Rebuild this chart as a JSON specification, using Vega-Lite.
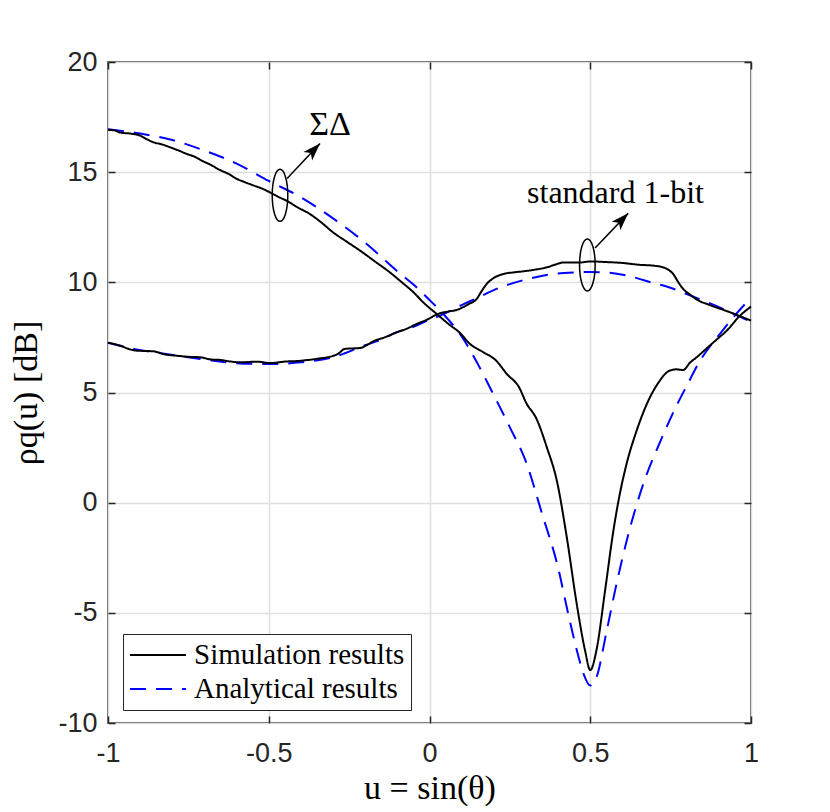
{
  "$schema": "https://vega.github.io/schema/vega-lite/v6.json",
  "width": 643,
  "height": 661,
  "autosize": {"type": "none"},
  "padding": {"left": 108, "top": 62, "right": 79, "bottom": 89},
  "background": "white",
  "config": {
    "view": {"stroke": "#262626", "strokeWidth": 1.5},
    "axis": {
      "labelFont": "Liberation Sans",
      "labelFontSize": 27,
      "labelColor": "#262626",
      "labelFlush": false,
      "titleFont": "Liberation Serif",
      "titleFontSize": 34,
      "titleFontWeight": "normal",
      "titleColor": "#000000",
      "gridColor": "#e0e0e0",
      "gridWidth": 1.5,
      "tickColor": "#262626",
      "tickWidth": 1.5,
      "tickSize": -7,
      "domain": false
    },
    "legend": {
      "labelFont": "Liberation Serif",
      "labelFontSize": 29,
      "labelColor": "#000000",
      "strokeColor": "#262626",
      "fillColor": "#ffffff",
      "padding": 6,
      "rowPadding": 4,
      "symbolStrokeWidth": 2,
      "symbolType": "M-1,0H3",
      "symbolSize": 784,
      "labelOffset": 35,
      "labelLimit": 400
    }
  },
  "datasets": {
    "curves": [
      {"curve": "sd_ana", "kind": "Analytical results", "u": -1, "rho": 16.95},
      {"curve": "sd_ana", "kind": "Analytical results", "u": -0.9, "rho": 16.75},
      {"curve": "sd_ana", "kind": "Analytical results", "u": -0.8, "rho": 16.46},
      {"curve": "sd_ana", "kind": "Analytical results", "u": -0.7, "rho": 15.98},
      {"curve": "sd_ana", "kind": "Analytical results", "u": -0.6, "rho": 15.39},
      {"curve": "sd_ana", "kind": "Analytical results", "u": -0.5, "rho": 14.6},
      {"curve": "sd_ana", "kind": "Analytical results", "u": -0.4, "rho": 13.86},
      {"curve": "sd_ana", "kind": "Analytical results", "u": -0.3, "rho": 12.9},
      {"curve": "sd_ana", "kind": "Analytical results", "u": -0.2, "rho": 11.8},
      {"curve": "sd_ana", "kind": "Analytical results", "u": -0.1, "rho": 10.5},
      {"curve": "sd_ana", "kind": "Analytical results", "u": -0.05, "rho": 9.9},
      {"curve": "sd_ana", "kind": "Analytical results", "u": 0, "rho": 9.2},
      {"curve": "sd_ana", "kind": "Analytical results", "u": 0.05, "rho": 8.45},
      {"curve": "sd_ana", "kind": "Analytical results", "u": 0.1, "rho": 7.55},
      {"curve": "sd_ana", "kind": "Analytical results", "u": 0.15, "rho": 6.3},
      {"curve": "sd_ana", "kind": "Analytical results", "u": 0.2, "rho": 4.88},
      {"curve": "sd_ana", "kind": "Analytical results", "u": 0.25, "rho": 3.42},
      {"curve": "sd_ana", "kind": "Analytical results", "u": 0.3, "rho": 1.86},
      {"curve": "sd_ana", "kind": "Analytical results", "u": 0.35, "rho": -0.5},
      {"curve": "sd_ana", "kind": "Analytical results", "u": 0.4, "rho": -2.95},
      {"curve": "sd_ana", "kind": "Analytical results", "u": 0.43, "rho": -4.95},
      {"curve": "sd_ana", "kind": "Analytical results", "u": 0.46, "rho": -6.8},
      {"curve": "sd_ana", "kind": "Analytical results", "u": 0.48, "rho": -7.8},
      {"curve": "sd_ana", "kind": "Analytical results", "u": 0.5, "rho": -8.3},
      {"curve": "sd_ana", "kind": "Analytical results", "u": 0.52, "rho": -7.9},
      {"curve": "sd_ana", "kind": "Analytical results", "u": 0.55, "rho": -5.9},
      {"curve": "sd_ana", "kind": "Analytical results", "u": 0.58, "rho": -3.8},
      {"curve": "sd_ana", "kind": "Analytical results", "u": 0.62, "rho": -1.35},
      {"curve": "sd_ana", "kind": "Analytical results", "u": 0.665, "rho": 0.85},
      {"curve": "sd_ana", "kind": "Analytical results", "u": 0.72, "rho": 2.85},
      {"curve": "sd_ana", "kind": "Analytical results", "u": 0.77, "rho": 4.45},
      {"curve": "sd_ana", "kind": "Analytical results", "u": 0.8, "rho": 5.3},
      {"curve": "sd_ana", "kind": "Analytical results", "u": 0.84, "rho": 6.4},
      {"curve": "sd_ana", "kind": "Analytical results", "u": 0.86, "rho": 6.85},
      {"curve": "sd_ana", "kind": "Analytical results", "u": 0.9, "rho": 7.6},
      {"curve": "sd_ana", "kind": "Analytical results", "u": 0.95, "rho": 8.5},
      {"curve": "sd_ana", "kind": "Analytical results", "u": 1, "rho": 9.3},

      {"curve": "ob_ana", "kind": "Analytical results", "u": -1, "rho": 7.26},
      {"curve": "ob_ana", "kind": "Analytical results", "u": -0.92, "rho": 6.98},
      {"curve": "ob_ana", "kind": "Analytical results", "u": -0.82, "rho": 6.75},
      {"curve": "ob_ana", "kind": "Analytical results", "u": -0.71, "rho": 6.52},
      {"curve": "ob_ana", "kind": "Analytical results", "u": -0.61, "rho": 6.34},
      {"curve": "ob_ana", "kind": "Analytical results", "u": -0.5, "rho": 6.29},
      {"curve": "ob_ana", "kind": "Analytical results", "u": -0.4, "rho": 6.37},
      {"curve": "ob_ana", "kind": "Analytical results", "u": -0.3, "rho": 6.6},
      {"curve": "ob_ana", "kind": "Analytical results", "u": -0.2, "rho": 7.15},
      {"curve": "ob_ana", "kind": "Analytical results", "u": -0.15, "rho": 7.4},
      {"curve": "ob_ana", "kind": "Analytical results", "u": -0.1, "rho": 7.75},
      {"curve": "ob_ana", "kind": "Analytical results", "u": -0.05, "rho": 7.98},
      {"curve": "ob_ana", "kind": "Analytical results", "u": 0, "rho": 8.3},
      {"curve": "ob_ana", "kind": "Analytical results", "u": 0.033, "rho": 8.49},
      {"curve": "ob_ana", "kind": "Analytical results", "u": 0.1, "rho": 8.97},
      {"curve": "ob_ana", "kind": "Analytical results", "u": 0.15, "rho": 9.3},
      {"curve": "ob_ana", "kind": "Analytical results", "u": 0.2, "rho": 9.65},
      {"curve": "ob_ana", "kind": "Analytical results", "u": 0.3, "rho": 10.13},
      {"curve": "ob_ana", "kind": "Analytical results", "u": 0.385, "rho": 10.38},
      {"curve": "ob_ana", "kind": "Analytical results", "u": 0.45, "rho": 10.45},
      {"curve": "ob_ana", "kind": "Analytical results", "u": 0.5, "rho": 10.47},
      {"curve": "ob_ana", "kind": "Analytical results", "u": 0.55, "rho": 10.45},
      {"curve": "ob_ana", "kind": "Analytical results", "u": 0.63, "rho": 10.25},
      {"curve": "ob_ana", "kind": "Analytical results", "u": 0.7, "rho": 9.95},
      {"curve": "ob_ana", "kind": "Analytical results", "u": 0.74, "rho": 9.8},
      {"curve": "ob_ana", "kind": "Analytical results", "u": 0.8, "rho": 9.47},
      {"curve": "ob_ana", "kind": "Analytical results", "u": 0.89, "rho": 8.94},
      {"curve": "ob_ana", "kind": "Analytical results", "u": 1, "rho": 8.2},

      {"curve": "sd_sim", "kind": "Simulation results", "u": -1, "rho": 16.92},
      {"curve": "sd_sim", "kind": "Simulation results", "u": -0.98, "rho": 16.9},
      {"curve": "sd_sim", "kind": "Simulation results", "u": -0.963, "rho": 16.8},
      {"curve": "sd_sim", "kind": "Simulation results", "u": -0.93, "rho": 16.75},
      {"curve": "sd_sim", "kind": "Simulation results", "u": -0.9, "rho": 16.66},
      {"curve": "sd_sim", "kind": "Simulation results", "u": -0.88, "rho": 16.5},
      {"curve": "sd_sim", "kind": "Simulation results", "u": -0.859, "rho": 16.36},
      {"curve": "sd_sim", "kind": "Simulation results", "u": -0.83, "rho": 16.25},
      {"curve": "sd_sim", "kind": "Simulation results", "u": -0.807, "rho": 16.13},
      {"curve": "sd_sim", "kind": "Simulation results", "u": -0.78, "rho": 15.98},
      {"curve": "sd_sim", "kind": "Simulation results", "u": -0.755, "rho": 15.83},
      {"curve": "sd_sim", "kind": "Simulation results", "u": -0.73, "rho": 15.7},
      {"curve": "sd_sim", "kind": "Simulation results", "u": -0.705, "rho": 15.5},
      {"curve": "sd_sim", "kind": "Simulation results", "u": -0.68, "rho": 15.33},
      {"curve": "sd_sim", "kind": "Simulation results", "u": -0.652, "rho": 15.1},
      {"curve": "sd_sim", "kind": "Simulation results", "u": -0.625, "rho": 14.92},
      {"curve": "sd_sim", "kind": "Simulation results", "u": -0.6, "rho": 14.7},
      {"curve": "sd_sim", "kind": "Simulation results", "u": -0.575, "rho": 14.55},
      {"curve": "sd_sim", "kind": "Simulation results", "u": -0.548, "rho": 14.4},
      {"curve": "sd_sim", "kind": "Simulation results", "u": -0.52, "rho": 14.25},
      {"curve": "sd_sim", "kind": "Simulation results", "u": -0.496, "rho": 14.08},
      {"curve": "sd_sim", "kind": "Simulation results", "u": -0.47, "rho": 13.88},
      {"curve": "sd_sim", "kind": "Simulation results", "u": -0.444, "rho": 13.7},
      {"curve": "sd_sim", "kind": "Simulation results", "u": -0.41, "rho": 13.4},
      {"curve": "sd_sim", "kind": "Simulation results", "u": -0.372, "rho": 13.1},
      {"curve": "sd_sim", "kind": "Simulation results", "u": -0.335, "rho": 12.7},
      {"curve": "sd_sim", "kind": "Simulation results", "u": -0.3, "rho": 12.27},
      {"curve": "sd_sim", "kind": "Simulation results", "u": -0.26, "rho": 11.87},
      {"curve": "sd_sim", "kind": "Simulation results", "u": -0.216, "rho": 11.44},
      {"curve": "sd_sim", "kind": "Simulation results", "u": -0.17, "rho": 10.95},
      {"curve": "sd_sim", "kind": "Simulation results", "u": -0.123, "rho": 10.45},
      {"curve": "sd_sim", "kind": "Simulation results", "u": -0.09, "rho": 10.05},
      {"curve": "sd_sim", "kind": "Simulation results", "u": -0.05, "rho": 9.55},
      {"curve": "sd_sim", "kind": "Simulation results", "u": -0.02, "rho": 9.1},
      {"curve": "sd_sim", "kind": "Simulation results", "u": 0.022, "rho": 8.57},
      {"curve": "sd_sim", "kind": "Simulation results", "u": 0.06, "rho": 8.1},
      {"curve": "sd_sim", "kind": "Simulation results", "u": 0.095, "rho": 7.7},
      {"curve": "sd_sim", "kind": "Simulation results", "u": 0.126, "rho": 7.2},
      {"curve": "sd_sim", "kind": "Simulation results", "u": 0.165, "rho": 6.85},
      {"curve": "sd_sim", "kind": "Simulation results", "u": 0.207, "rho": 6.45},
      {"curve": "sd_sim", "kind": "Simulation results", "u": 0.24, "rho": 5.85},
      {"curve": "sd_sim", "kind": "Simulation results", "u": 0.28, "rho": 5.2},
      {"curve": "sd_sim", "kind": "Simulation results", "u": 0.3, "rho": 4.55},
      {"curve": "sd_sim", "kind": "Simulation results", "u": 0.333, "rho": 3.8},
      {"curve": "sd_sim", "kind": "Simulation results", "u": 0.365, "rho": 2.51},
      {"curve": "sd_sim", "kind": "Simulation results", "u": 0.396, "rho": 1.0},
      {"curve": "sd_sim", "kind": "Simulation results", "u": 0.427, "rho": -1.57},
      {"curve": "sd_sim", "kind": "Simulation results", "u": 0.458, "rho": -4.6},
      {"curve": "sd_sim", "kind": "Simulation results", "u": 0.484, "rho": -6.72},
      {"curve": "sd_sim", "kind": "Simulation results", "u": 0.5, "rho": -7.6},
      {"curve": "sd_sim", "kind": "Simulation results", "u": 0.519, "rho": -6.72},
      {"curve": "sd_sim", "kind": "Simulation results", "u": 0.546, "rho": -4.0},
      {"curve": "sd_sim", "kind": "Simulation results", "u": 0.572, "rho": -1.27},
      {"curve": "sd_sim", "kind": "Simulation results", "u": 0.592, "rho": 0.4},
      {"curve": "sd_sim", "kind": "Simulation results", "u": 0.613, "rho": 1.76},
      {"curve": "sd_sim", "kind": "Simulation results", "u": 0.645, "rho": 3.3},
      {"curve": "sd_sim", "kind": "Simulation results", "u": 0.676, "rho": 4.48},
      {"curve": "sd_sim", "kind": "Simulation results", "u": 0.71, "rho": 5.4},
      {"curve": "sd_sim", "kind": "Simulation results", "u": 0.748, "rho": 6.0},
      {"curve": "sd_sim", "kind": "Simulation results", "u": 0.768, "rho": 6.05},
      {"curve": "sd_sim", "kind": "Simulation results", "u": 0.789, "rho": 6.02},
      {"curve": "sd_sim", "kind": "Simulation results", "u": 0.81, "rho": 6.35},
      {"curve": "sd_sim", "kind": "Simulation results", "u": 0.831, "rho": 6.6},
      {"curve": "sd_sim", "kind": "Simulation results", "u": 0.872, "rho": 7.13},
      {"curve": "sd_sim", "kind": "Simulation results", "u": 0.893, "rho": 7.4},
      {"curve": "sd_sim", "kind": "Simulation results", "u": 0.924, "rho": 7.8},
      {"curve": "sd_sim", "kind": "Simulation results", "u": 0.966, "rho": 8.49},
      {"curve": "sd_sim", "kind": "Simulation results", "u": 1, "rho": 8.9},

      {"curve": "ob_sim", "kind": "Simulation results", "u": -1, "rho": 7.26},
      {"curve": "ob_sim", "kind": "Simulation results", "u": -0.963, "rho": 7.13},
      {"curve": "ob_sim", "kind": "Simulation results", "u": -0.93, "rho": 6.95},
      {"curve": "ob_sim", "kind": "Simulation results", "u": -0.911, "rho": 6.9},
      {"curve": "ob_sim", "kind": "Simulation results", "u": -0.859, "rho": 6.87},
      {"curve": "ob_sim", "kind": "Simulation results", "u": -0.82, "rho": 6.72},
      {"curve": "ob_sim", "kind": "Simulation results", "u": -0.787, "rho": 6.67},
      {"curve": "ob_sim", "kind": "Simulation results", "u": -0.75, "rho": 6.62},
      {"curve": "ob_sim", "kind": "Simulation results", "u": -0.714, "rho": 6.6},
      {"curve": "ob_sim", "kind": "Simulation results", "u": -0.68, "rho": 6.5},
      {"curve": "ob_sim", "kind": "Simulation results", "u": -0.652, "rho": 6.48},
      {"curve": "ob_sim", "kind": "Simulation results", "u": -0.62, "rho": 6.41},
      {"curve": "ob_sim", "kind": "Simulation results", "u": -0.589, "rho": 6.37},
      {"curve": "ob_sim", "kind": "Simulation results", "u": -0.537, "rho": 6.4},
      {"curve": "ob_sim", "kind": "Simulation results", "u": -0.496, "rho": 6.34},
      {"curve": "ob_sim", "kind": "Simulation results", "u": -0.444, "rho": 6.41},
      {"curve": "ob_sim", "kind": "Simulation results", "u": -0.41, "rho": 6.43},
      {"curve": "ob_sim", "kind": "Simulation results", "u": -0.382, "rho": 6.47},
      {"curve": "ob_sim", "kind": "Simulation results", "u": -0.34, "rho": 6.55},
      {"curve": "ob_sim", "kind": "Simulation results", "u": -0.31, "rho": 6.62},
      {"curve": "ob_sim", "kind": "Simulation results", "u": -0.285, "rho": 6.75},
      {"curve": "ob_sim", "kind": "Simulation results", "u": -0.263, "rho": 6.98},
      {"curve": "ob_sim", "kind": "Simulation results", "u": -0.24, "rho": 7.0},
      {"curve": "ob_sim", "kind": "Simulation results", "u": -0.216, "rho": 7.02},
      {"curve": "ob_sim", "kind": "Simulation results", "u": -0.195, "rho": 7.15},
      {"curve": "ob_sim", "kind": "Simulation results", "u": -0.175, "rho": 7.32},
      {"curve": "ob_sim", "kind": "Simulation results", "u": -0.14, "rho": 7.5},
      {"curve": "ob_sim", "kind": "Simulation results", "u": -0.102, "rho": 7.73},
      {"curve": "ob_sim", "kind": "Simulation results", "u": -0.07, "rho": 7.9},
      {"curve": "ob_sim", "kind": "Simulation results", "u": -0.04, "rho": 8.11},
      {"curve": "ob_sim", "kind": "Simulation results", "u": -0.009, "rho": 8.3},
      {"curve": "ob_sim", "kind": "Simulation results", "u": 0.033, "rho": 8.6},
      {"curve": "ob_sim", "kind": "Simulation results", "u": 0.06, "rho": 8.68},
      {"curve": "ob_sim", "kind": "Simulation results", "u": 0.085, "rho": 8.75},
      {"curve": "ob_sim", "kind": "Simulation results", "u": 0.12, "rho": 9.0},
      {"curve": "ob_sim", "kind": "Simulation results", "u": 0.147, "rho": 9.25},
      {"curve": "ob_sim", "kind": "Simulation results", "u": 0.162, "rho": 9.6},
      {"curve": "ob_sim", "kind": "Simulation results", "u": 0.178, "rho": 9.93},
      {"curve": "ob_sim", "kind": "Simulation results", "u": 0.2, "rho": 10.2},
      {"curve": "ob_sim", "kind": "Simulation results", "u": 0.23, "rho": 10.38},
      {"curve": "ob_sim", "kind": "Simulation results", "u": 0.26, "rho": 10.45},
      {"curve": "ob_sim", "kind": "Simulation results", "u": 0.292, "rho": 10.5},
      {"curve": "ob_sim", "kind": "Simulation results", "u": 0.33, "rho": 10.58},
      {"curve": "ob_sim", "kind": "Simulation results", "u": 0.365, "rho": 10.68},
      {"curve": "ob_sim", "kind": "Simulation results", "u": 0.39, "rho": 10.8},
      {"curve": "ob_sim", "kind": "Simulation results", "u": 0.416, "rho": 10.9},
      {"curve": "ob_sim", "kind": "Simulation results", "u": 0.44, "rho": 10.9},
      {"curve": "ob_sim", "kind": "Simulation results", "u": 0.468, "rho": 10.9},
      {"curve": "ob_sim", "kind": "Simulation results", "u": 0.5, "rho": 10.95},
      {"curve": "ob_sim", "kind": "Simulation results", "u": 0.55, "rho": 10.92},
      {"curve": "ob_sim", "kind": "Simulation results", "u": 0.6, "rho": 10.88},
      {"curve": "ob_sim", "kind": "Simulation results", "u": 0.65, "rho": 10.8},
      {"curve": "ob_sim", "kind": "Simulation results", "u": 0.7, "rho": 10.75},
      {"curve": "ob_sim", "kind": "Simulation results", "u": 0.727, "rho": 10.68},
      {"curve": "ob_sim", "kind": "Simulation results", "u": 0.745, "rho": 10.55},
      {"curve": "ob_sim", "kind": "Simulation results", "u": 0.758, "rho": 10.38},
      {"curve": "ob_sim", "kind": "Simulation results", "u": 0.772, "rho": 10.05},
      {"curve": "ob_sim", "kind": "Simulation results", "u": 0.789, "rho": 9.7},
      {"curve": "ob_sim", "kind": "Simulation results", "u": 0.81, "rho": 9.45},
      {"curve": "ob_sim", "kind": "Simulation results", "u": 0.831, "rho": 9.22},
      {"curve": "ob_sim", "kind": "Simulation results", "u": 0.87, "rho": 8.98},
      {"curve": "ob_sim", "kind": "Simulation results", "u": 0.914, "rho": 8.75},
      {"curve": "ob_sim", "kind": "Simulation results", "u": 0.955, "rho": 8.53},
      {"curve": "ob_sim", "kind": "Simulation results", "u": 1, "rho": 8.26}
    ],
    "ellipses": [
      {"group": "ΣΔ", "u": -0.465, "rho": 13.95},
      {"group": "standard 1-bit", "u": 0.491, "rho": 10.79}
    ],
    "arrows": [
      {"group": "ΣΔ", "u": -0.443, "rho": 14.71, "u2": -0.3406, "rho2": 16.3},
      {"group": "standard 1-bit", "u": 0.515, "rho": 11.56, "u2": 0.618, "rho2": 13.13}
    ],
    "labels": [
      {"label": "ΣΔ", "u": -0.309, "rho": 17.16},
      {"label": "standard 1-bit", "u": 0.5785, "rho": 14.07}
    ]
  },
  "layer": [
    {
      "data": {"name": "curves"},
      "mark": {"type": "line", "strokeWidth": 2, "interpolate": "monotone"},
      "encoding": {
        "x": {
          "field": "u",
          "type": "quantitative",
          "scale": {"domain": [-1, 1], "nice": false, "zero": false},
          "axis": {
            "orient": "bottom",
            "values": [-1, -0.5, 0, 0.5, 1],
            "labelExpr": "toString(datum.value)",
            "labelPadding": 24,
            "title": "u = sin(θ)",
            "titlePadding": 5,
            "grid": true
          }
        },
        "y": {
          "field": "rho",
          "type": "quantitative",
          "scale": {"domain": [-10, 20], "nice": false, "zero": false},
          "axis": {
            "orient": "left",
            "values": [-10, -5, 0, 5, 10, 15, 20],
            "labelExpr": "toString(datum.value)",
            "labelPadding": 18,
            "title": "ρq(u) [dB]",
            "titlePadding": 14,
            "grid": true
          }
        },
        "color": {
          "field": "kind",
          "type": "nominal",
          "scale": {"domain": ["Simulation results", "Analytical results"], "range": ["#000000", "#0000ff"]},
          "legend": {"title": null, "orient": "none", "legendX": 15, "legendY": 572}
        },
        "strokeDash": {
          "field": "kind",
          "type": "nominal",
          "scale": {"domain": ["Simulation results", "Analytical results"], "range": [[1, 0], [16, 10]]},
          "legend": {"title": null, "orient": "none", "legendX": 15, "legendY": 572}
        },
        "detail": {"field": "curve"}
      }
    },
    {
      "data": {"name": "ellipses"},
      "mark": {
        "type": "point",
        "shape": "M-0.3,0A0.3,1,0,1,0,0.3,0A0.3,1,0,1,0,-0.3,0Z",
        "size": 2704,
        "filled": false,
        "stroke": "#000000",
        "strokeWidth": 1.5,
        "opacity": 1
      },
      "encoding": {
        "x": {
          "field": "u",
          "type": "quantitative",
          "scale": {"domain": [-1, 1], "nice": false, "zero": false},
          "axis": {"orient": "top", "values": [-1, -0.5, 0, 0.5, 1], "labels": false, "grid": false, "title": null}
        },
        "y": {
          "field": "rho",
          "type": "quantitative",
          "scale": {"domain": [-10, 20], "nice": false, "zero": false},
          "axis": {"orient": "right", "values": [-10, -5, 0, 5, 10, 15, 20], "labels": false, "grid": false, "title": null}
        }
      }
    },
    {
      "data": {"name": "arrows"},
      "mark": {"type": "rule", "stroke": "#000000", "strokeWidth": 1.5},
      "encoding": {
        "x": {"field": "u", "type": "quantitative", "scale": {"domain": [-1, 1], "nice": false, "zero": false}, "axis": null},
        "y": {"field": "rho", "type": "quantitative", "scale": {"domain": [-10, 20], "nice": false, "zero": false}, "axis": null},
        "x2": {"field": "u2"},
        "y2": {"field": "rho2"}
      }
    },
    {
      "data": {"name": "arrows"},
      "mark": {
        "type": "point",
        "shape": "M0,0L0.55,1.6L0,1.2L-0.55,1.6Z",
        "size": 484,
        "angle": 44,
        "filled": true,
        "fill": "#000000",
        "strokeWidth": 0,
        "opacity": 1
      },
      "encoding": {
        "x": {"field": "u2", "type": "quantitative", "scale": {"domain": [-1, 1], "nice": false, "zero": false}, "axis": null},
        "y": {"field": "rho2", "type": "quantitative", "scale": {"domain": [-10, 20], "nice": false, "zero": false}, "axis": null}
      }
    },
    {
      "data": {"name": "labels"},
      "transform": [{"filter": "datum.label === 'ΣΔ'"}],
      "mark": {"type": "text", "font": "Liberation Serif", "fontSize": 34, "color": "#000000", "align": "center", "baseline": "middle"},
      "encoding": {
        "x": {"field": "u", "type": "quantitative", "scale": {"domain": [-1, 1], "nice": false, "zero": false}, "axis": null},
        "y": {"field": "rho", "type": "quantitative", "scale": {"domain": [-10, 20], "nice": false, "zero": false}, "axis": null},
        "text": {"field": "label"}
      }
    },
    {
      "data": {"name": "labels"},
      "transform": [{"filter": "datum.label !== 'ΣΔ'"}],
      "mark": {"type": "text", "font": "Liberation Serif", "fontSize": 32, "color": "#000000", "align": "center", "baseline": "middle"},
      "encoding": {
        "x": {"field": "u", "type": "quantitative", "scale": {"domain": [-1, 1], "nice": false, "zero": false}, "axis": null},
        "y": {"field": "rho", "type": "quantitative", "scale": {"domain": [-10, 20], "nice": false, "zero": false}, "axis": null},
        "text": {"field": "label"}
      }
    }
  ],
  "resolve": {"axis": {"x": "independent", "y": "independent"}}
}
